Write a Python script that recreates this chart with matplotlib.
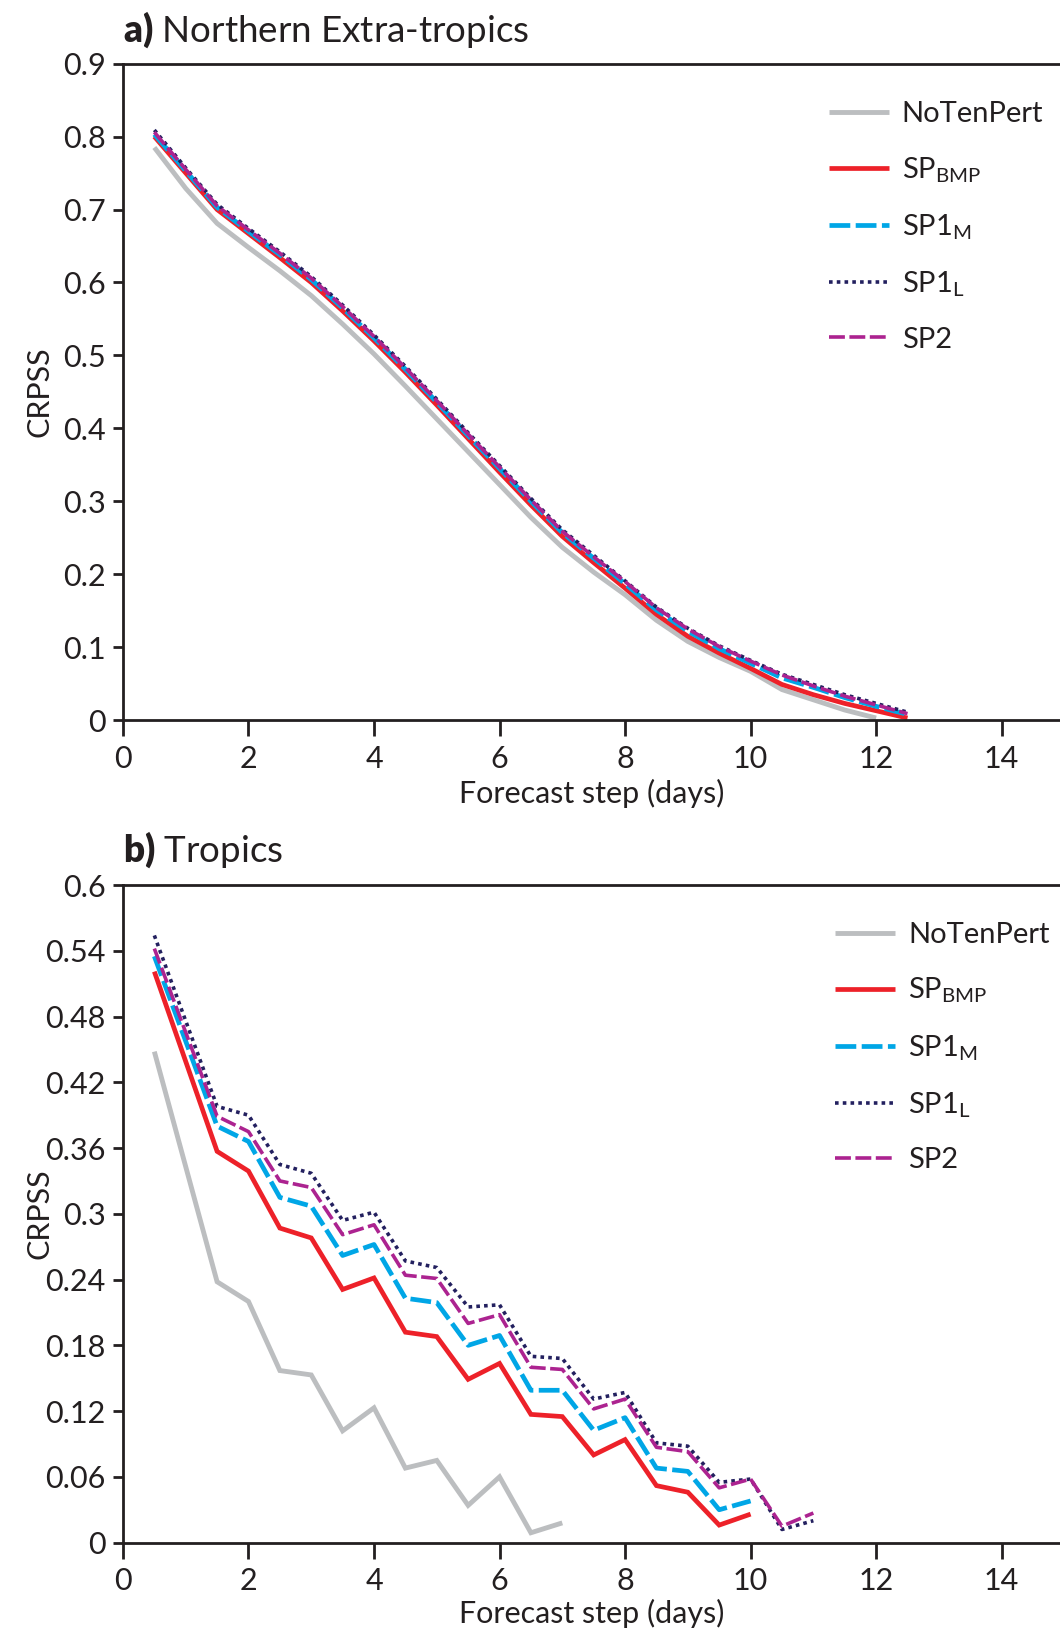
import matplotlib
matplotlib.use("Agg")
import matplotlib.pyplot as plt

plt.rcParams['font.family'] = ['Lato', 'DejaVu Sans']
plt.rcParams['mathtext.fontset'] = 'custom'
plt.rcParams['mathtext.rm'] = 'Lato'
plt.rcParams['mathtext.it'] = 'Lato:italic'
plt.rcParams['mathtext.bf'] = 'Lato:heavy'

# ---------------- data ----------------
series_names = ['NoTenPert', r'SP$_{\mathrm{BMP}}$', r'SP1$_{\mathrm{M}}$', r'SP1$_{\mathrm{L}}$', 'SP2']

# Panel a: Northern Extra-tropics
steps_a = [0.5, 1.0, 1.5, 2.0, 2.5, 3.0, 3.5, 4.0, 4.5, 5.0, 5.5, 6.0, 6.5,
           7.0, 7.5, 8.0, 8.5, 9.0, 9.5, 10.0, 10.5, 11.0, 11.5, 12.0, 12.5]
a_notenpert = [0.785, 0.729, 0.681, 0.648, 0.616, 0.582, 0.543, 0.502, 0.458, 0.413, 0.368, 0.323,
               0.278, 0.237, 0.203, 0.172, 0.137, 0.108, 0.086, 0.067, 0.042, 0.028, 0.014, 0.003]
a_spbmp = [0.800, 0.750, 0.700, 0.667, 0.634, 0.600, 0.561, 0.520, 0.477, 0.432, 0.386, 0.340, 0.295,
           0.252, 0.216, 0.181, 0.145, 0.115, 0.092, 0.071, 0.049, 0.035, 0.023, 0.013, 0.003]
a_sp1m = [0.803, 0.753, 0.703, 0.670, 0.638, 0.604, 0.565, 0.524, 0.481, 0.436, 0.390, 0.345, 0.300,
          0.257, 0.222, 0.187, 0.151, 0.122, 0.098, 0.078, 0.058, 0.045, 0.031, 0.019, 0.008]
a_sp1l = [0.809, 0.757, 0.707, 0.674, 0.642, 0.608, 0.569, 0.528, 0.485, 0.440, 0.394, 0.349, 0.304,
          0.261, 0.226, 0.191, 0.155, 0.126, 0.102, 0.082, 0.063, 0.049, 0.035, 0.023, 0.011]
a_sp2 = [0.806, 0.755, 0.705, 0.672, 0.640, 0.606, 0.567, 0.526, 0.483, 0.438, 0.392, 0.347, 0.302,
         0.259, 0.224, 0.190, 0.154, 0.125, 0.101, 0.081, 0.062, 0.047, 0.033, 0.021, 0.009]

# Panel b: Tropics
steps_b = [0.5, 1.5, 2.0, 2.5, 3.0, 3.5, 4.0, 4.5, 5.0, 5.5, 6.0, 6.5, 7.0, 7.5, 8.0,
           8.5, 9.0, 9.5, 10.0, 10.5, 11.0]
b_notenpert = [0.448, 0.238, 0.220, 0.157, 0.153, 0.102, 0.123, 0.068, 0.075, 0.034, 0.060, 0.009, 0.018]
b_spbmp = [0.521, 0.357, 0.339, 0.287, 0.278, 0.231, 0.2415, 0.192, 0.188, 0.149, 0.1635, 0.117,
           0.115, 0.080, 0.094, 0.052, 0.046, 0.016, 0.026]
b_sp1m = [0.535, 0.380, 0.366, 0.315, 0.307, 0.262, 0.272, 0.223, 0.219, 0.180, 0.189, 0.139,
          0.139, 0.1025, 0.114, 0.068, 0.065, 0.030, 0.038]
b_sp1l = [0.554, 0.398, 0.390, 0.345, 0.337, 0.294, 0.3015, 0.257, 0.251, 0.215, 0.217, 0.170,
          0.168, 0.131, 0.137, 0.091, 0.088, 0.055, 0.058, 0.012, 0.020]
b_sp2 = [0.542, 0.389, 0.375, 0.330, 0.324, 0.281, 0.290, 0.244, 0.241, 0.200, 0.208, 0.160,
         0.158, 0.122, 0.131, 0.087, 0.083, 0.050, 0.058, 0.015, 0.027]

xticks = [0, 2, 4, 6, 8, 10, 12, 14]
yticks_a = [0, 0.1, 0.2, 0.3, 0.4, 0.5, 0.6, 0.7, 0.8, 0.9]
yticklabels_a = ['0', '0.1', '0.2', '0.3', '0.4', '0.5', '0.6', '0.7', '0.8', '0.9']
yticks_b = [0, 0.06, 0.12, 0.18, 0.24, 0.3, 0.36, 0.42, 0.48, 0.54, 0.6]
yticklabels_b = ['0', '0.06', '0.12', '0.18', '0.24', '0.3', '0.36', '0.42', '0.48', '0.54', '0.6']

titles = [r'$\mathbf{a)}$ Northern Extra-tropics', r'$\mathbf{b)}$ Tropics']
xlabel = 'Forecast step (days)'
ylabel = 'CRPSS'

# ---------------- styles ----------------
styles = [
    dict(color='#bcbec0', lw=3.5, ls='-'),
    dict(color='#ed2129', lw=3.4, ls='-'),
    dict(color='#00a6e6', lw=3.4, ls=(0, (4.4, 1.15))),
    dict(color='#23205f', lw=2.6, ls=(0, (1.0, 1.15))),
    dict(color='#ac2390', lw=2.6, ls=(0, (4.4, 1.25))),
]

FS = 22
FS_LEG = 21
fig = plt.figure(figsize=(10.6, 16.35), dpi=100)
ax_a = fig.add_axes([0.116, 0.5595, 0.884, 0.4016])
ax_b = fig.add_axes([0.116, 0.0565, 0.884, 0.4022])

panels = [
    (ax_a, [a_notenpert, a_spbmp, a_sp1m, a_sp1l, a_sp2], steps_a, yticks_a, yticklabels_a, (0, 0.9),
     (0.782, 0.938), 0.9745, -0.089),
    (ax_b, [b_notenpert, b_spbmp, b_sp1m, b_sp1l, b_sp2], steps_b, yticks_b, yticklabels_b, (0, 0.6),
     (0.788, 0.436), 0.4728, -0.085),
]

for i, (ax, data, steps, yt, ytl, ylim, legpos, title_y, xl_y) in enumerate(panels):
    for name, vals, st in zip(series_names, data, styles):
        ax.plot(steps[:len(vals)], vals, label=name, solid_capstyle='butt',
                dash_capstyle='butt', solid_joinstyle='miter', **st)
    ax.set_xlim(0, 14.93)
    ax.set_ylim(*ylim)
    ax.set_xticks(xticks)
    ax.set_xticklabels([str(t) for t in xticks])
    ax.set_yticks(yt)
    ax.set_yticklabels(ytl)
    ax.spines['right'].set_visible(False)
    for s in ['left', 'bottom', 'top']:
        ax.spines[s].set_linewidth(2.0)
        ax.spines[s].set_color('#231f20')
    ax.tick_params(axis='x', direction='out', length=11.5, width=2.0, pad=6.0,
                   labelsize=FS, colors='#231f20')
    ax.tick_params(axis='y', direction='out', length=7, width=2.0, pad=5.5,
                   labelsize=FS, colors='#231f20')
    ax.set_xlabel(xlabel, fontsize=FS, color='#231f20')
    ax.xaxis.set_label_coords(0.5, xl_y)
    ax.xaxis.label.set_va('top')
    ax.set_ylabel(ylabel, fontsize=FS, color='#231f20')
    ax.yaxis.set_label_coords(-0.074, 0.5)
    fig.text(0.116, title_y, titles[i], fontsize=26.5, color='#231f20', ha='left', va='baseline')
    leg = ax.legend(loc='upper left', bbox_to_anchor=legpos, bbox_transform=fig.transFigure,
                    frameon=False, fontsize=FS_LEG, handlelength=2.05, handletextpad=0.45,
                    labelspacing=0.95, borderpad=0, borderaxespad=0)
    for t in leg.get_texts():
        t.set_color('#231f20')

fig.savefig('out.png', dpi=100)
